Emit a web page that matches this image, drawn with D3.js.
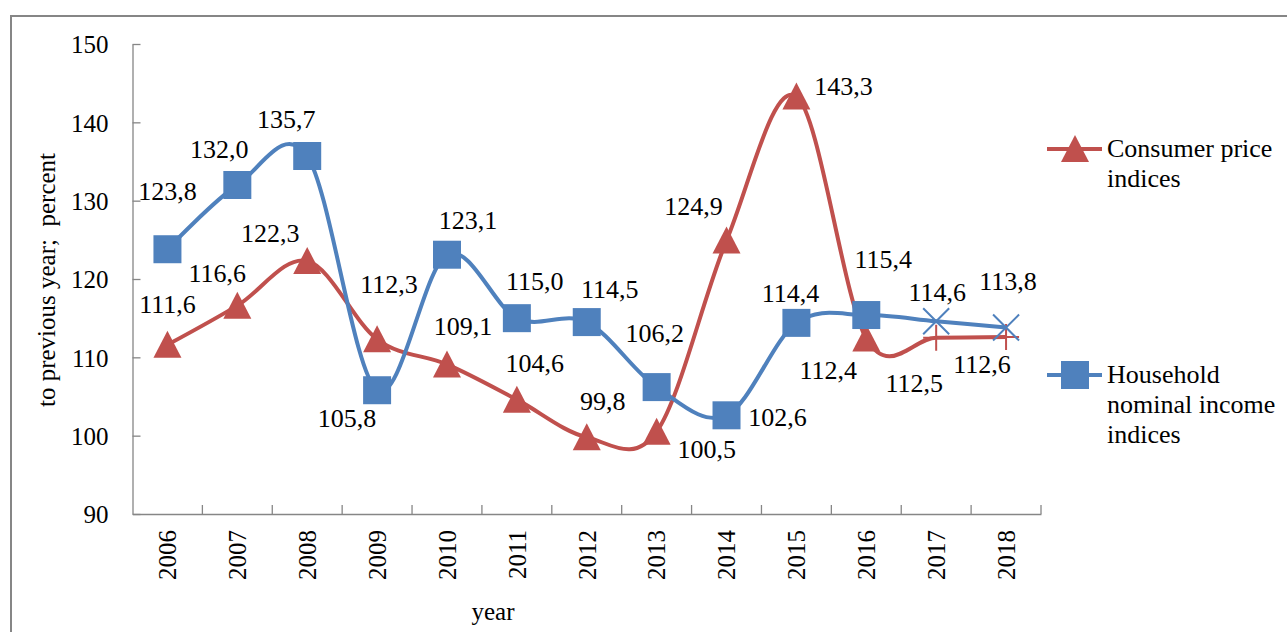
<!DOCTYPE html>
<html>
<head>
<meta charset="utf-8">
<script src="https://cdn.jsdelivr.net/npm/d3@7"></script>
<style>
  html, body { margin: 0; padding: 0; background: #fff; }
  svg { display: block; }
  svg text { font-family: "Liberation Serif", "Tinos", "Times New Roman", "DejaVu Serif", "Noto Serif", serif !important; fill: #000; }
</style>
</head>
<body>
<svg id="chart" width="1287" height="632"></svg>
<script>
// ---- data ----
const years = ["2006","2007","2008","2009","2010","2011","2012","2013","2014","2015","2016","2017","2018"];
const cpi = [111.6, 116.6, 122.3, 112.3, 109.1, 104.6, 99.8, 100.5, 124.9, 143.3, 112.4, 112.5, 112.6];
const income = [123.8, 132.0, 135.7, 105.8, 123.1, 115.0, 114.5, 106.2, 102.6, 114.4, 115.4, 114.6, 113.8];
const yTicks = [90, 100, 110, 120, 130, 140, 150];
const forecastYears = ["2017", "2018"];
const seriesNames = [["Consumer price", "indices"], ["Household", "nominal income", "indices"]];
const yTitle = "to previous year;  percent";
const xTitle = "year";
// label placement (offset of label baseline-center from its point)
const cpiLabelOffsets = [[0,-32],[-20,-24],[-37,-19],[12,-46],[16,-29],[18,-28],[16,-27],[50,26],[-33,-26],[47,-1],[-38,40],[-22,54],[-24,36]];
const incomeLabelOffsets = [[0,-49],[-18,-27],[-21,-28],[-30,37],[21,-26],[18,-28],[23,-24],[-2,-45],[51,11],[-6,-21],[17,-47],[1,-20],[2,-38]];

// ---- setup ----
const FONT = '"Liberation Serif", "Tinos", "Times New Roman", "DejaVu Serif", serif';
const RED = "#C0504D", BLUE = "#4F81BD", GRAY = "#868686";
const svg = d3.select("#chart");
const fmt = d3.formatLocale({decimal: ",", thousands: " ", grouping: [3], currency: ["", ""]}).format(".1f");

// outer frame
svg.append("rect").attr("x", 11).attr("y", 16).attr("width", 1300).attr("height", 640)
  .attr("fill", "none").attr("stroke", GRAY).attr("stroke-width", 2);

const x = d3.scaleBand().domain(years).range([132.5, 1041]).padding(0);
const y = d3.scaleLinear().domain([90, 150]).range([514, 44]);
const cx = d => x(d) + x.bandwidth() / 2;

// y axis
const yAxis = svg.append("g").attr("transform", "translate(132.5,0)")
  .call(d3.axisLeft(y).tickValues(yTicks).tickSizeInner(-8).tickSizeOuter(0).tickPadding(24))
  .attr("font-family", FONT);
yAxis.select(".domain").attr("stroke", GRAY).attr("stroke-width", 1.3);
yAxis.selectAll(".tick line").attr("stroke", GRAY).attr("stroke-width", 1.3);
yAxis.selectAll(".tick text").attr("font-size", 25).attr("fill", "#000").attr("dy", "0.35em");

// x axis
const xAxis = svg.append("g").attr("transform", "translate(0,514)")
  .call(d3.axisBottom(x).tickSize(0).tickSizeOuter(0))
  .attr("font-family", FONT);
xAxis.select(".domain").attr("stroke", GRAY).attr("stroke-width", 1.3);
xAxis.selectAll(".tick text")
  .attr("font-size", 25).attr("fill", "#000")
  .attr("transform", "rotate(-90)").attr("text-anchor", "end")
  .attr("x", -16).attr("y", 0).attr("dy", "0.35em");
// boundary ticks (between categories)
const bounds = years.map(d => x(d)).concat([x(years[years.length - 1]) + x.bandwidth()]).slice(1);
xAxis.selectAll(".btick").data(bounds).join("line").attr("class", "btick")
  .attr("x1", d => d).attr("x2", d => d).attr("y1", 0).attr("y2", -9)
  .attr("stroke", GRAY).attr("stroke-width", 1.3);

// titles
svg.append("text").attr("transform", "translate(46,280) rotate(-90)")
  .attr("text-anchor", "middle").attr("dy", "0.35em").attr("font-size", 25)
  .style("white-space", "pre").text(yTitle);
svg.append("text").attr("x", 493).attr("y", 620).attr("text-anchor", "middle")
  .attr("font-size", 25).text(xTitle);

// ---- series ----
const line = d3.line().x(d => cx(d.year)).y(d => y(d.v)).curve(d3.curveCardinal.tension(0));
const cpiData = years.map((yr, i) => ({year: yr, v: cpi[i], off: cpiLabelOffsets[i]}));
const incData = years.map((yr, i) => ({year: yr, v: income[i], off: incomeLabelOffsets[i]}));

const triPath = "M0,-14L14,13L-14,13Z";
const sqPath = "M-14,-14H14V14H-14Z";
const xPath = "M-13,-13L13,13M-13,13L13,-13";
const plusPath = "M-13,0H13M0,-13V13";

function drawSeries(data, color, mainPath, forecastPath) {
  const g = svg.append("g");
  g.append("path").datum(data).attr("d", line).attr("fill", "none")
    .attr("stroke", color).attr("stroke-width", 4).attr("stroke-linejoin", "round");
  g.selectAll(".m").data(data).join("path").attr("class", "m")
    .attr("transform", d => `translate(${cx(d.year)},${y(d.v)})`)
    .attr("d", d => forecastYears.includes(d.year) ? forecastPath : mainPath)
    .attr("fill", d => forecastYears.includes(d.year) ? "none" : color)
    .attr("stroke", color)
    .attr("stroke-width", d => forecastYears.includes(d.year) ? 2 : 0);
}
drawSeries(cpiData, RED, triPath, plusPath);
drawSeries(incData, BLUE, sqPath, xPath);

// data labels
function drawLabels(data) {
  svg.append("g").selectAll("text").data(data).join("text")
    .attr("x", d => cx(d.year) + d.off[0])
    .attr("y", d => y(d.v) + d.off[1])
    .attr("text-anchor", "middle").attr("font-size", 26)
    .text(d => fmt(d.v));
}
drawLabels(cpiData);
drawLabels(incData);

// ---- legend ----
const legend = [
  {color: RED, path: triPath, lines: seriesNames[0], ly: 149, ty: 157},
  {color: BLUE, path: sqPath, lines: seriesNames[1], ly: 375, ty: 383}
];
const lg = svg.append("g").selectAll("g").data(legend).join("g");
lg.append("line").attr("x1", 1047).attr("x2", 1102).attr("y1", d => d.ly).attr("y2", d => d.ly)
  .attr("stroke", d => d.color).attr("stroke-width", 4);
lg.append("path").attr("transform", d => `translate(1075,${d.ly})`).attr("d", d => d.path)
  .attr("fill", d => d.color);
lg.each(function(d) {
  const t = d3.select(this).append("text").attr("x", 1107).attr("y", d.ty).attr("font-size", 26);
  d.lines.forEach((s, i) => t.append("tspan").attr("x", 1107).attr("dy", i === 0 ? 0 : 30).text(s));
});
</script>
</body>
</html>
